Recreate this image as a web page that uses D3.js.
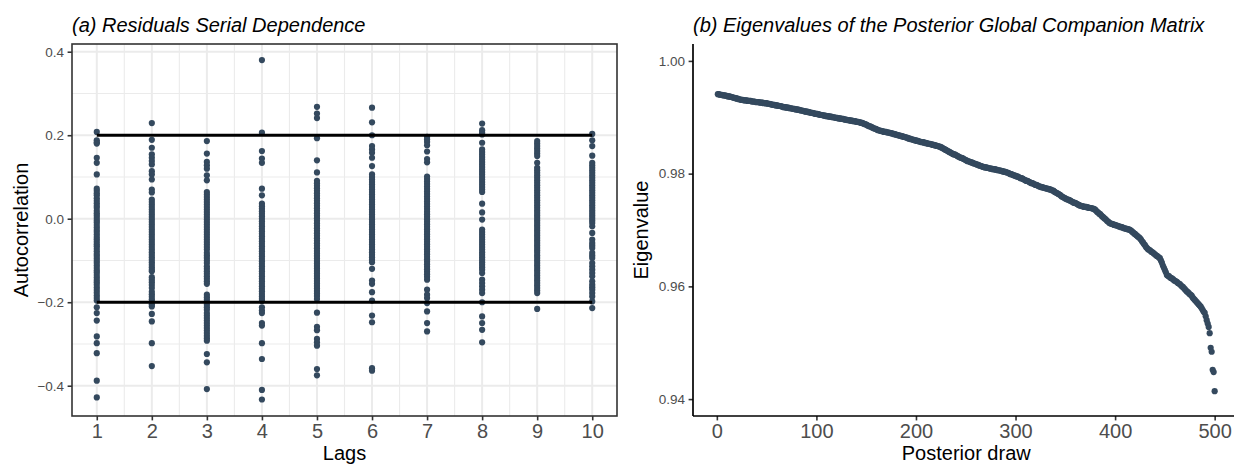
<!DOCTYPE html>
<html>
<head>
<meta charset="utf-8">
<script src="https://cdn.jsdelivr.net/npm/d3@7"></script>
<style>
  body { margin: 0; background: #ffffff; }
  svg { display: block; font-family: "Liberation Sans", Arial, Helvetica, sans-serif; }
</style>
</head>
<body>
<svg id="chart" width="1234" height="467"></svg>
<script>
// ---------- Panel (a): residual autocorrelations by lag ----------
const lags = [1, 2, 3, 4, 5, 6, 7, 8, 9, 10];

const acfLag1 = [0.208,0.188,0.183,0.180,0.146,0.134,0.106,0.072,0.067,0.061,0.056,0.049,0.043,0.037,0.031,0.026,0.019,0.013,0.008,0.002,-0.004,-0.009,-0.015,-0.021,-0.027,-0.032,-0.038,-0.044,-0.049,-0.055,-0.061,-0.066,-0.072,-0.078,-0.084,-0.089,-0.095,-0.101,-0.106,-0.112,-0.118,-0.124,-0.129,-0.135,-0.141,-0.147,-0.152,-0.158,-0.165,-0.171,-0.177,-0.184,-0.190,-0.196,-0.212,-0.226,-0.244,-0.282,-0.298,-0.322,-0.388,-0.428];
const acfLag2 = [0.229,0.189,0.170,0.154,0.146,0.138,0.130,0.114,0.106,0.094,0.070,0.063,0.046,0.040,0.034,0.028,0.022,0.016,0.010,0.004,-0.002,-0.008,-0.014,-0.020,-0.026,-0.032,-0.038,-0.044,-0.050,-0.056,-0.062,-0.068,-0.074,-0.080,-0.086,-0.092,-0.098,-0.104,-0.110,-0.116,-0.122,-0.126,-0.140,-0.146,-0.152,-0.159,-0.166,-0.175,-0.181,-0.187,-0.193,-0.199,-0.205,-0.210,-0.228,-0.246,-0.298,-0.353];
const acfLag3 = [0.186,0.156,0.136,0.128,0.120,0.104,0.092,0.064,0.058,0.052,0.046,0.040,0.034,0.028,0.022,0.016,0.010,0.004,-0.002,-0.008,-0.014,-0.020,-0.026,-0.032,-0.038,-0.044,-0.050,-0.056,-0.062,-0.068,-0.074,-0.082,-0.088,-0.094,-0.100,-0.106,-0.114,-0.120,-0.126,-0.132,-0.138,-0.144,-0.150,-0.156,-0.182,-0.188,-0.194,-0.200,-0.206,-0.212,-0.218,-0.226,-0.232,-0.238,-0.244,-0.250,-0.256,-0.262,-0.268,-0.274,-0.280,-0.286,-0.292,-0.324,-0.344,-0.408];
const acfLag4 = [0.380,0.206,0.162,0.144,0.134,0.072,0.056,0.036,0.030,0.024,0.018,0.012,0.006,0.000,-0.006,-0.012,-0.018,-0.024,-0.030,-0.036,-0.042,-0.048,-0.054,-0.060,-0.066,-0.072,-0.078,-0.084,-0.090,-0.096,-0.102,-0.108,-0.114,-0.120,-0.126,-0.132,-0.138,-0.144,-0.150,-0.156,-0.162,-0.168,-0.174,-0.180,-0.186,-0.192,-0.197,-0.212,-0.220,-0.226,-0.250,-0.256,-0.298,-0.336,-0.410,-0.433];
const acfLag5 = [0.268,0.252,0.241,0.193,0.140,0.111,0.091,0.085,0.079,0.073,0.067,0.061,0.055,0.049,0.043,0.037,0.031,0.025,0.019,0.013,0.007,0.001,-0.005,-0.011,-0.017,-0.023,-0.029,-0.035,-0.041,-0.047,-0.053,-0.059,-0.065,-0.071,-0.077,-0.083,-0.089,-0.095,-0.101,-0.107,-0.113,-0.119,-0.125,-0.131,-0.137,-0.143,-0.149,-0.155,-0.161,-0.167,-0.173,-0.179,-0.185,-0.192,-0.225,-0.259,-0.267,-0.288,-0.296,-0.304,-0.360,-0.375];
const acfLag6 = [0.266,0.231,0.200,0.174,0.166,0.158,0.146,0.126,0.106,0.100,0.094,0.088,0.082,0.076,0.070,0.064,0.058,0.052,0.046,0.040,0.034,0.028,0.022,0.016,0.010,0.004,-0.002,-0.008,-0.014,-0.020,-0.026,-0.032,-0.038,-0.044,-0.050,-0.056,-0.062,-0.068,-0.074,-0.080,-0.086,-0.092,-0.098,-0.104,-0.120,-0.148,-0.156,-0.176,-0.196,-0.232,-0.248,-0.358,-0.364];
const acfLag7 = [0.196,0.190,0.184,0.176,0.161,0.143,0.135,0.101,0.095,0.089,0.083,0.077,0.071,0.065,0.059,0.053,0.047,0.041,0.035,0.029,0.023,0.017,0.011,0.005,-0.001,-0.007,-0.013,-0.019,-0.025,-0.031,-0.037,-0.043,-0.049,-0.055,-0.061,-0.067,-0.073,-0.079,-0.085,-0.091,-0.097,-0.103,-0.109,-0.115,-0.121,-0.127,-0.133,-0.139,-0.146,-0.170,-0.182,-0.190,-0.202,-0.222,-0.250,-0.270];
const acfLag8 = [0.228,0.212,0.206,0.202,0.182,0.166,0.160,0.154,0.148,0.142,0.136,0.130,0.124,0.118,0.112,0.106,0.100,0.094,0.088,0.082,0.076,0.070,0.064,0.036,0.015,-0.002,-0.026,-0.032,-0.038,-0.044,-0.050,-0.056,-0.062,-0.068,-0.074,-0.080,-0.086,-0.092,-0.098,-0.104,-0.110,-0.116,-0.122,-0.130,-0.146,-0.154,-0.162,-0.170,-0.178,-0.200,-0.234,-0.250,-0.266,-0.296];
const acfLag9 = [0.186,0.180,0.174,0.168,0.162,0.156,0.150,0.134,0.122,0.116,0.110,0.104,0.098,0.092,0.086,0.080,0.074,0.068,0.062,0.056,0.050,0.044,0.038,0.032,0.026,0.020,0.014,0.008,0.002,-0.004,-0.010,-0.016,-0.022,-0.028,-0.034,-0.040,-0.046,-0.052,-0.058,-0.064,-0.070,-0.076,-0.082,-0.088,-0.094,-0.100,-0.106,-0.112,-0.118,-0.124,-0.130,-0.136,-0.142,-0.148,-0.154,-0.160,-0.166,-0.172,-0.178,-0.216];
const acfLag10 = [0.203,0.188,0.174,0.151,0.134,0.128,0.122,0.116,0.110,0.104,0.098,0.092,0.086,0.080,0.074,0.068,0.062,0.056,0.050,0.044,0.038,0.032,0.026,0.020,0.014,0.008,0.002,-0.004,-0.010,-0.018,-0.034,-0.050,-0.058,-0.064,-0.070,-0.082,-0.088,-0.094,-0.106,-0.114,-0.122,-0.130,-0.138,-0.150,-0.158,-0.164,-0.170,-0.178,-0.186,-0.198,-0.214];

const acfByLag = [acfLag1, acfLag2, acfLag3, acfLag4, acfLag5, acfLag6, acfLag7, acfLag8, acfLag9, acfLag10];
const bandLevels = [0.2, -0.2];
const acfTicks = [-0.4, -0.2, 0, 0.2, 0.4];
const acfMinorTicks = [-0.3, -0.1, 0.1, 0.3];
const lagMinorTicks = [1.5, 2.5, 3.5, 4.5, 5.5, 6.5, 7.5, 8.5, 9.5];

// ---------- Panel (b): sorted eigenvalues per posterior draw ----------
const eigenvalues = [
  0.9941,0.9941,0.9940,0.9940,0.9940,0.9939,0.9939,0.9939,0.9938,0.9938,
  0.9937,0.9937,0.9937,0.9936,0.9936,0.9935,0.9935,0.9934,0.9934,0.9933,
  0.9933,0.9932,0.9932,0.9931,0.9931,0.9931,0.9930,0.9930,0.9930,0.9930,
  0.9929,0.9929,0.9929,0.9929,0.9928,0.9928,0.9928,0.9928,0.9927,0.9927,
  0.9927,0.9927,0.9926,0.9926,0.9926,0.9926,0.9925,0.9925,0.9925,0.9925,
  0.9924,0.9924,0.9924,0.9923,0.9923,0.9922,0.9922,0.9922,0.9921,0.9921,
  0.9921,0.9920,0.9920,0.9920,0.9919,0.9919,0.9918,0.9918,0.9918,0.9917,
  0.9917,0.9917,0.9916,0.9916,0.9916,0.9915,0.9915,0.9915,0.9914,0.9914,
  0.9914,0.9913,0.9913,0.9912,0.9912,0.9912,0.9911,0.9911,0.9910,0.9910,
  0.9910,0.9909,0.9909,0.9908,0.9908,0.9908,0.9907,0.9907,0.9906,0.9906,
  0.9906,0.9905,0.9905,0.9904,0.9904,0.9904,0.9903,0.9903,0.9903,0.9902,
  0.9902,0.9902,0.9901,0.9901,0.9901,0.9900,0.9900,0.9900,0.9899,0.9899,
  0.9899,0.9898,0.9898,0.9898,0.9897,0.9897,0.9897,0.9896,0.9896,0.9896,
  0.9895,0.9895,0.9895,0.9894,0.9894,0.9894,0.9893,0.9893,0.9893,0.9892,
  0.9892,0.9892,0.9891,0.9891,0.9890,0.9890,0.9889,0.9888,0.9888,0.9887,
  0.9886,0.9885,0.9884,0.9884,0.9883,0.9882,0.9881,0.9880,0.9880,0.9879,
  0.9878,0.9877,0.9877,0.9876,0.9876,0.9875,0.9875,0.9874,0.9874,0.9874,
  0.9873,0.9873,0.9873,0.9872,0.9872,0.9871,0.9871,0.9870,0.9870,0.9869,
  0.9869,0.9868,0.9868,0.9867,0.9867,0.9866,0.9866,0.9865,0.9865,0.9864,
  0.9864,0.9863,0.9862,0.9862,0.9861,0.9861,0.9860,0.9860,0.9859,0.9859,
  0.9858,0.9858,0.9857,0.9857,0.9856,0.9856,0.9856,0.9855,0.9855,0.9854,
  0.9854,0.9853,0.9853,0.9853,0.9852,0.9852,0.9851,0.9851,0.9850,0.9850,
  0.9849,0.9849,0.9848,0.9848,0.9847,0.9846,0.9845,0.9844,0.9843,0.9842,
  0.9841,0.9840,0.9839,0.9838,0.9837,0.9836,0.9835,0.9834,0.9834,0.9833,
  0.9832,0.9831,0.9830,0.9829,0.9828,0.9828,0.9827,0.9826,0.9825,0.9824,
  0.9823,0.9822,0.9822,0.9821,0.9820,0.9820,0.9819,0.9818,0.9818,0.9817,
  0.9816,0.9816,0.9815,0.9814,0.9814,0.9813,0.9812,0.9812,0.9811,0.9811,
  0.9811,0.9810,0.9810,0.9809,0.9809,0.9809,0.9808,0.9808,0.9808,0.9807,
  0.9807,0.9806,0.9806,0.9806,0.9805,0.9805,0.9804,0.9804,0.9803,0.9803,
  0.9802,0.9802,0.9801,0.9800,0.9799,0.9799,0.9798,0.9797,0.9797,0.9796,
  0.9795,0.9795,0.9794,0.9793,0.9792,0.9792,0.9791,0.9790,0.9789,0.9788,
  0.9787,0.9787,0.9786,0.9785,0.9784,0.9783,0.9783,0.9782,0.9781,0.9780,
  0.9780,0.9779,0.9778,0.9777,0.9777,0.9776,0.9776,0.9775,0.9775,0.9774,
  0.9774,0.9773,0.9773,0.9772,0.9772,0.9771,0.9770,0.9770,0.9768,0.9767,
  0.9766,0.9765,0.9764,0.9763,0.9762,0.9760,0.9759,0.9758,0.9757,0.9756,
  0.9755,0.9754,0.9754,0.9753,0.9752,0.9751,0.9750,0.9749,0.9748,0.9748,
  0.9747,0.9746,0.9745,0.9744,0.9743,0.9743,0.9742,0.9742,0.9741,0.9741,
  0.9741,0.9740,0.9740,0.9739,0.9739,0.9739,0.9738,0.9738,0.9737,0.9736,
  0.9734,0.9732,0.9731,0.9729,0.9728,0.9726,0.9724,0.9723,0.9721,0.9720,
  0.9718,0.9716,0.9715,0.9713,0.9712,0.9711,0.9711,0.9710,0.9709,0.9709,
  0.9708,0.9708,0.9707,0.9706,0.9706,0.9705,0.9705,0.9704,0.9703,0.9703,
  0.9702,0.9702,0.9701,0.9701,0.9700,0.9699,0.9697,0.9696,0.9694,0.9693,
  0.9691,0.9690,0.9688,0.9687,0.9685,0.9683,0.9680,0.9678,0.9675,0.9673,
  0.9670,0.9668,0.9666,0.9665,0.9664,0.9662,0.9661,0.9660,0.9658,0.9657,
  0.9655,0.9654,0.9653,0.9651,0.9650,0.9646,0.9642,0.9637,0.9633,0.9629,
  0.9625,0.9620,0.9619,0.9618,0.9616,0.9615,0.9614,0.9613,0.9611,0.9610,
  0.9609,0.9608,0.9606,0.9605,0.9604,0.9602,0.9600,0.9599,0.9597,0.9595,
  0.9593,0.9591,0.9590,0.9588,0.9586,0.9585,0.9583,0.9580,0.9578,0.9576,
  0.9574,0.9572,0.9570,0.9568,0.9566,0.9564,0.9561,0.9558,0.9555,0.9553,
  0.9547,0.9540,0.9534,0.9528,0.9517,0.9491,0.9484,0.9452,0.9448,0.9414
];
const drawTicks = [0, 100, 200, 300, 400, 500];
const eigenTicks = [0.94, 0.96, 0.98, 1.00];

// ---------- shared styling ----------
const pointColor = "#34495E";
const tickTextColor = "#4D4D4D";
const minus = s => s.replace("-", "\u2212");

const svg = d3.select("#chart");

// =============== Panel (a) ===============
const aLeft = 72, aRight = 617, aTop = 44, aBottom = 416;
const xA = d3.scaleLinear().domain([0.55, 10.45]).range([aLeft, aRight]);
const yA = d3.scaleLinear().domain([-0.4725, 0.4185]).range([aBottom, aTop]);

const gA = svg.append("g");

// grid: minor then major
const gridA = gA.append("g").attr("stroke", "#EBEBEB").attr("fill", "none");
gridA.selectAll("line.vmin").data(lagMinorTicks).join("line")
  .attr("x1", d => xA(d)).attr("x2", d => xA(d)).attr("y1", aTop).attr("y2", aBottom)
  .attr("stroke-width", 1.1);
gridA.selectAll("line.hmin").data(acfMinorTicks).join("line")
  .attr("y1", d => yA(d)).attr("y2", d => yA(d)).attr("x1", aLeft).attr("x2", aRight)
  .attr("stroke-width", 1.1);
gridA.selectAll("line.vmaj").data(lags).join("line")
  .attr("x1", d => xA(d)).attr("x2", d => xA(d)).attr("y1", aTop).attr("y2", aBottom)
  .attr("stroke-width", 2);
gridA.selectAll("line.hmaj").data(acfTicks).join("line")
  .attr("y1", d => yA(d)).attr("y2", d => yA(d)).attr("x1", aLeft).attr("x2", aRight)
  .attr("stroke-width", 2);

// points
const acfPoints = [];
lags.forEach((lag, i) => acfByLag[i].forEach(v => acfPoints.push({ lag, v })));
gA.append("g").selectAll("circle").data(acfPoints).join("circle")
  .attr("cx", d => xA(d.lag)).attr("cy", d => yA(d.v)).attr("r", 3.1)
  .attr("fill", pointColor);

// +/-0.2 reference bands from first to last lag
gA.append("g").selectAll("line").data(bandLevels).join("line")
  .attr("x1", xA(lags[0])).attr("x2", xA(lags[lags.length - 1]))
  .attr("y1", d => yA(d)).attr("y2", d => yA(d))
  .attr("stroke", "#000").attr("stroke-width", 3);

// panel border
gA.append("rect")
  .attr("x", aLeft).attr("y", aTop).attr("width", aRight - aLeft).attr("height", aBottom - aTop)
  .attr("fill", "none").attr("stroke", "#333333").attr("stroke-width", 1.6);

// axes
const yAxisA = gA.append("g").attr("transform", `translate(${aLeft},0)`)
  .call(d3.axisLeft(yA).tickValues(acfTicks).tickSize(4.4).tickPadding(3.5)
    .tickFormat(d => minus(d3.format(".1f")(d))));
const xAxisA = gA.append("g").attr("transform", `translate(0,${aBottom})`)
  .call(d3.axisBottom(xA).tickValues(lags).tickSize(4.4).tickPadding(3.5).tickFormat(d3.format("d")));
[yAxisA, xAxisA].forEach(ax => {
  ax.select(".domain").remove();
  ax.selectAll(".tick line").attr("stroke", "#333333").attr("stroke-width", 1.6);
  ax.selectAll(".tick text").attr("fill", tickTextColor).attr("font-family", null);
  ax.attr("font-family", null);
});
yAxisA.selectAll(".tick text").attr("font-size", "13.5px");
xAxisA.selectAll(".tick text").attr("font-size", "20px");

// titles
gA.append("text").attr("x", aLeft).attr("y", 32)
  .attr("font-size", "20px").attr("font-style", "italic").attr("fill", "#000")
  .text("(a) Residuals Serial Dependence");
gA.append("text").attr("x", (aLeft + aRight) / 2).attr("y", 460)
  .attr("text-anchor", "middle").attr("font-size", "20px").attr("fill", "#000")
  .text("Lags");
gA.append("text").attr("transform", `translate(28,${(aTop + aBottom) / 2}) rotate(-90)`)
  .attr("text-anchor", "middle").attr("font-size", "20px").attr("fill", "#000")
  .text("Autocorrelation");

// =============== Panel (b) ===============
const bLeft = 693, bRight = 1239.5, bTop = 44, bBottom = 416;
const xB = d3.scaleLinear().domain([-23.95, 524.95]).range([bLeft, bRight]);
const yB = d3.scaleLinear().domain([0.937, 1.003]).range([bBottom, bTop]);

const gB = svg.append("g");

gB.append("g").selectAll("circle").data(eigenvalues).join("circle")
  .attr("cx", (d, i) => xB(i + 1)).attr("cy", d => yB(d)).attr("r", 3.1)
  .attr("fill", pointColor);

const yAxisB = gB.append("g").attr("transform", `translate(${bLeft},0)`)
  .call(d3.axisLeft(yB).tickValues(eigenTicks).tickSize(4.4).tickPadding(3.5).tickFormat(d3.format(".2f")));
const xAxisB = gB.append("g").attr("transform", `translate(0,${bBottom})`)
  .call(d3.axisBottom(xB).tickValues(drawTicks).tickSize(4.4).tickPadding(3.5).tickFormat(d3.format("d")));
[yAxisB, xAxisB].forEach(ax => {
  ax.select(".domain").remove();
  ax.selectAll(".tick line").attr("stroke", "#333333").attr("stroke-width", 1.6);
  ax.selectAll(".tick text").attr("fill", tickTextColor);
  ax.attr("font-family", null);
});
yAxisB.selectAll(".tick text").attr("font-size", "13.5px");
xAxisB.selectAll(".tick text").attr("font-size", "20px");

// axis lines (classic theme)
gB.append("line").attr("x1", bLeft).attr("x2", bLeft).attr("y1", bTop).attr("y2", bBottom)
  .attr("stroke", "#000").attr("stroke-width", 1.7);
gB.append("line").attr("x1", bLeft).attr("x2", bRight).attr("y1", bBottom).attr("y2", bBottom)
  .attr("stroke", "#000").attr("stroke-width", 1.7);

gB.append("text").attr("x", bLeft).attr("y", 32)
  .attr("font-size", "20px").attr("font-style", "italic").attr("fill", "#000")
  .text("(b) Eigenvalues of the Posterior Global Companion Matrix");
gB.append("text").attr("x", (bLeft + bRight) / 2).attr("y", 460)
  .attr("text-anchor", "middle").attr("font-size", "20px").attr("fill", "#000")
  .text("Posterior draw");
gB.append("text").attr("transform", `translate(648,${(bTop + bBottom) / 2}) rotate(-90)`)
  .attr("text-anchor", "middle").attr("font-size", "20px").attr("fill", "#000")
  .text("Eigenvalue");
</script>
</body>
</html>
